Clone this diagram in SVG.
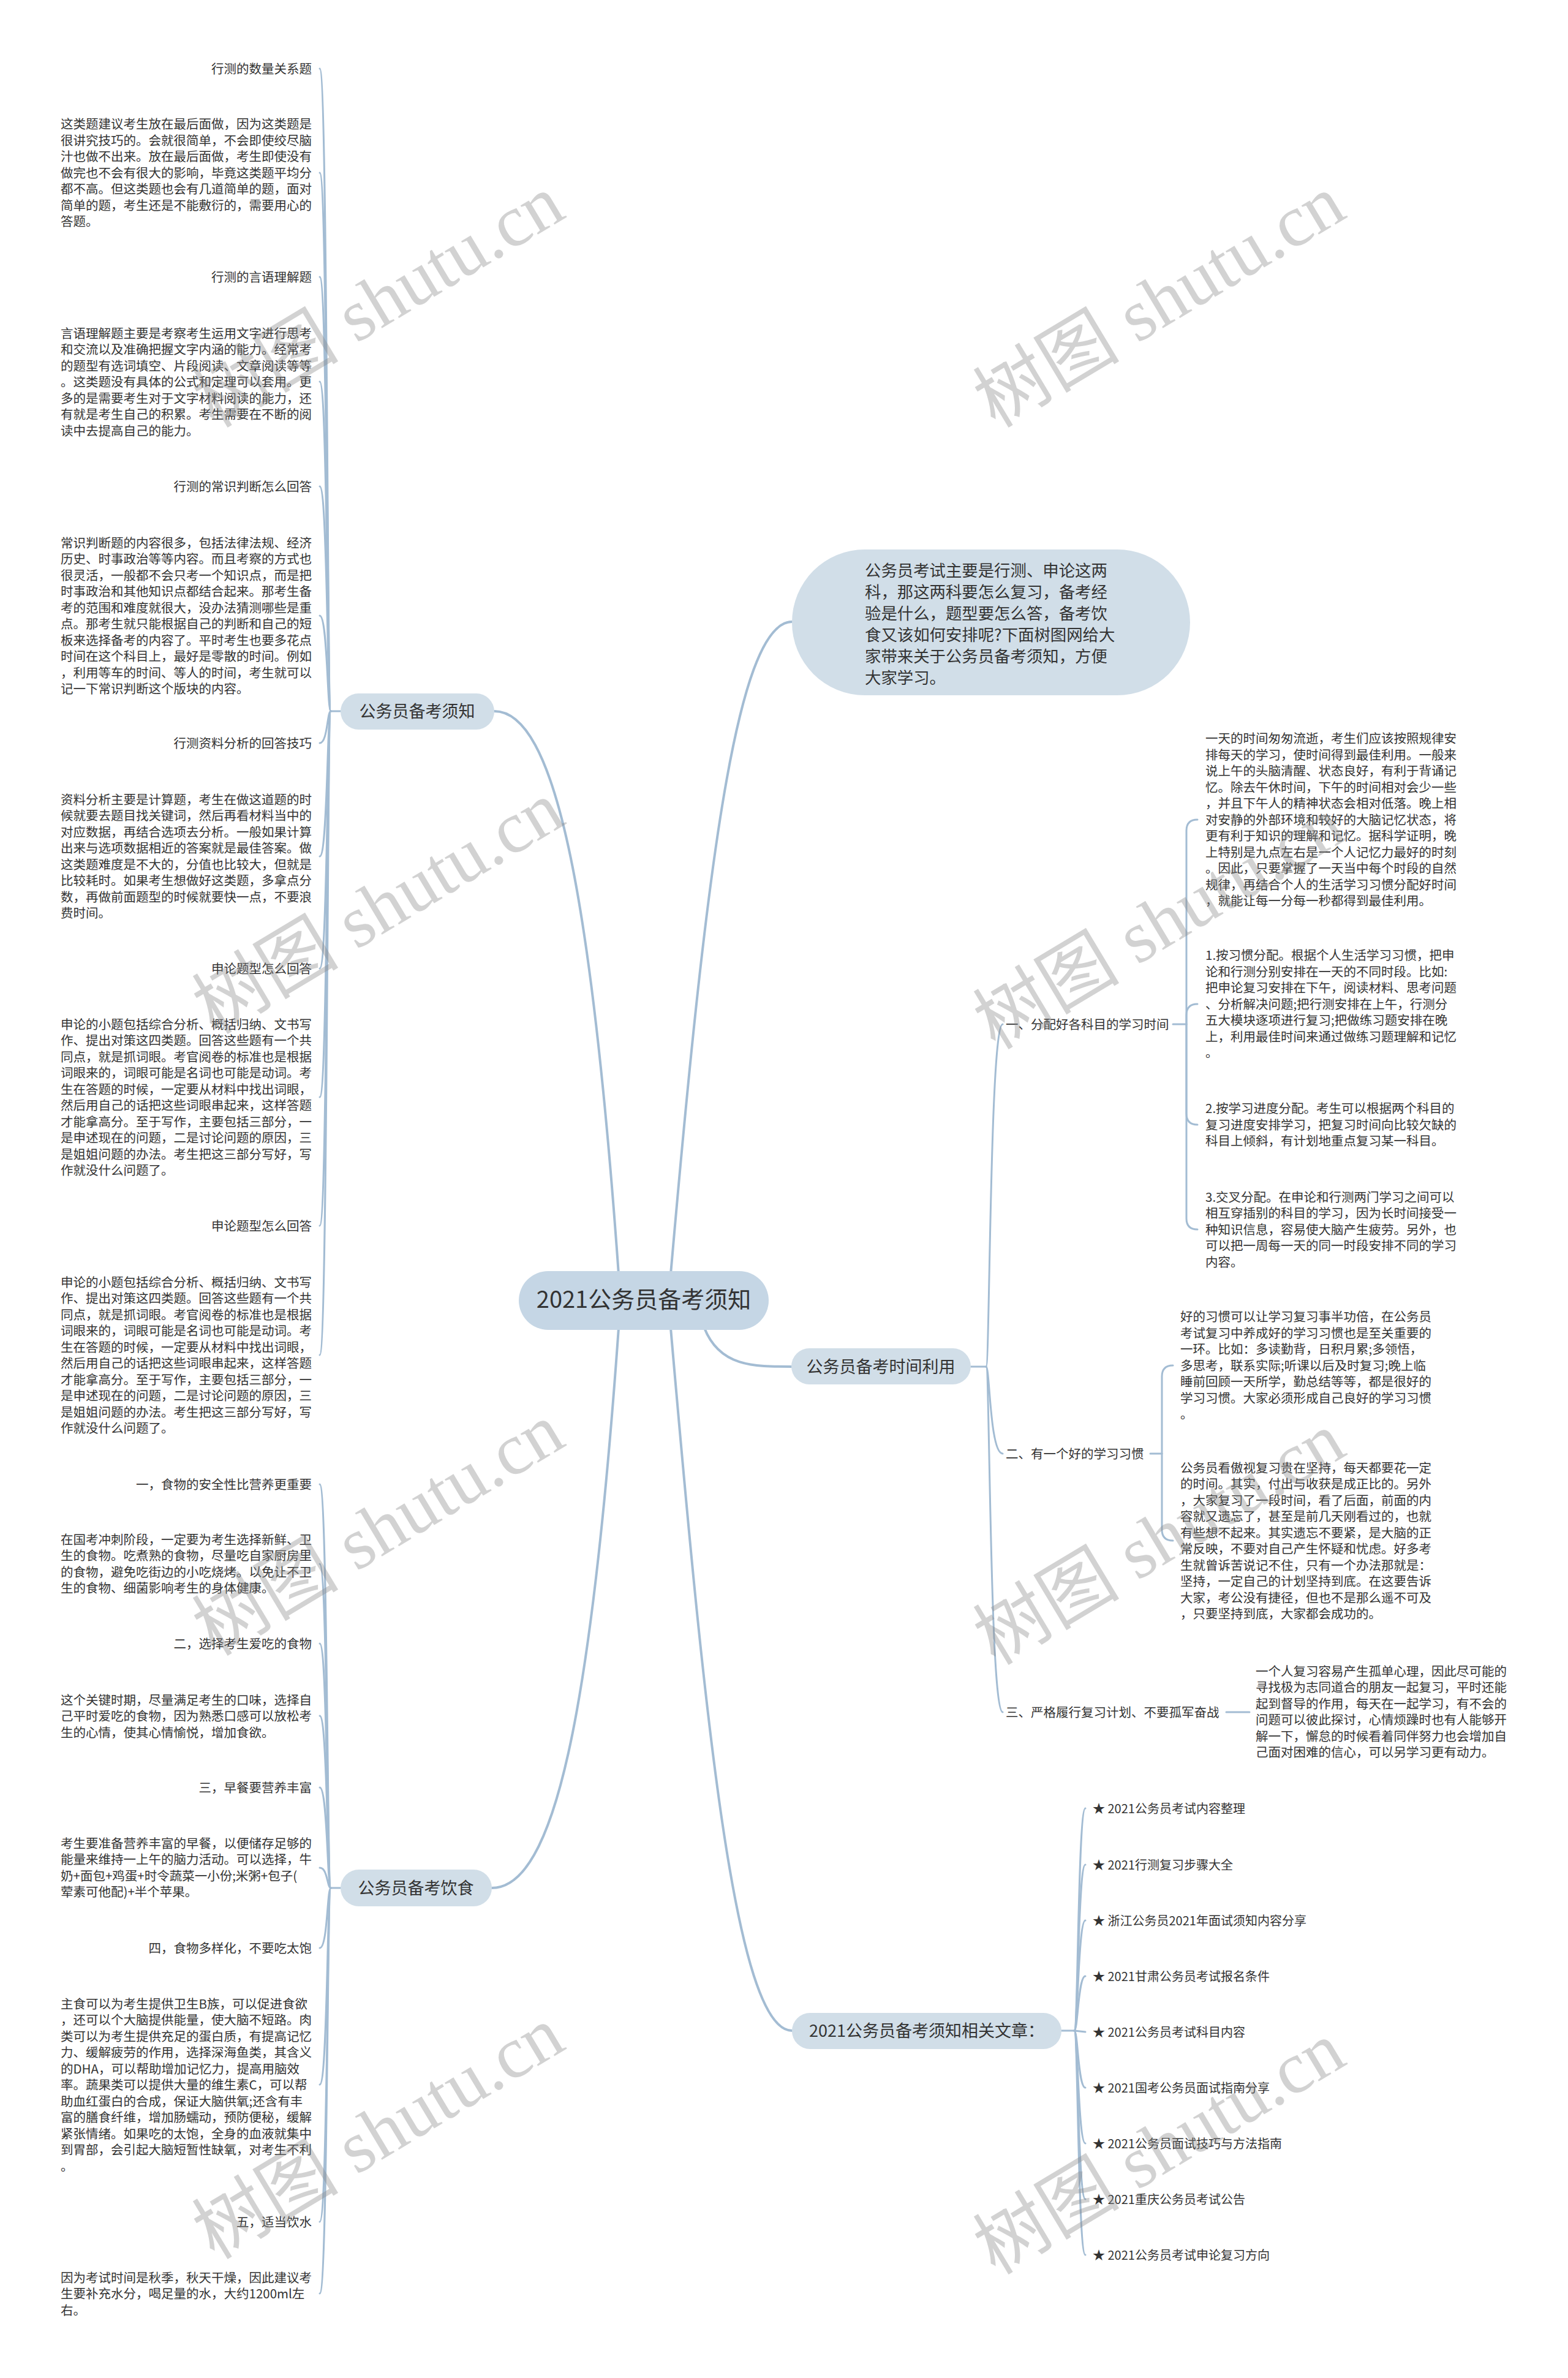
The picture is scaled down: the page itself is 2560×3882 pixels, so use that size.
<svg xmlns="http://www.w3.org/2000/svg" width="2560" height="3882" viewBox="0 0 2560 3882">
<style>
.leaf{font-family:"Noto Sans CJK SC","Noto Sans",sans-serif;font-size:20.5px;fill:#333333}
.rel{font-family:"Noto Sans CJK SC","Noto Sans",sans-serif;font-size:20px;fill:#333333}
.ttl{font-family:"Noto Sans CJK SC","Noto Sans",sans-serif;font-size:20.5px;fill:#333333;text-anchor:end}
.big{font-family:"Noto Sans CJK SC","Noto Sans",sans-serif;font-size:26.4px;fill:#333333}
.n1{font-family:"Noto Sans CJK SC","Noto Sans",sans-serif;font-size:27px;fill:#333333;text-anchor:middle}
.root{font-family:"Noto Sans CJK SC","Noto Sans",sans-serif;font-size:38px;fill:#333333;text-anchor:middle}
.pill{fill:#d1dee8}
.rootbox{fill:#c5d6e5}
.c{fill:none;stroke:#a3bcd3;stroke-width:3;stroke-linecap:round}
.c0{fill:none;stroke:#a3bcd3;stroke-width:4;stroke-linecap:round}
.wm{font-family:"Liberation Serif","Noto Sans CJK SC",serif;font-size:120px;fill:#8a8a8a;fill-opacity:0.38}
</style>
<rect width="2560" height="3882" fill="#ffffff"/>

<g id="connectors">
  <path class="c0" d="M1010 2080 C965 1450,905 1161,807 1161"/>
  <path class="c0" d="M1010 2168 C965 2800,905 3082,803 3082"/>
  <path class="c0" d="M1095 2080 C1150 1450,1200 1015,1293 1015"/>
  <path class="c0" d="M1150 2168 C1175 2231,1230 2231,1292 2231"/>
  <path class="c0" d="M1095 2168 C1150 2800,1200 3315,1293 3315"/>
  <path class="c" d="M556 1161 L540 1161"/>
  <path class="c" d="M540 1161 C534 1161,535 112,522 112"/>
  <path class="c" d="M540 1161 C534 1161,535 282,522 282"/>
  <path class="c" d="M540 1161 C534 1161,535 452,522 452"/>
  <path class="c" d="M540 1161 C534 1161,535 623,522 623"/>
  <path class="c" d="M540 1161 C534 1161,535 794,522 794"/>
  <path class="c" d="M540 1161 C534 1161,535 1005,522 1005"/>
  <path class="c" d="M540 1161 C534 1161,535 1213,522 1213"/>
  <path class="c" d="M540 1161 C534 1161,535 1398,522 1398"/>
  <path class="c" d="M540 1161 C534 1161,535 1581,522 1581"/>
  <path class="c" d="M540 1161 C534 1161,535 1791,522 1791"/>
  <path class="c" d="M540 1161 C534 1161,535 2001,522 2001"/>
  <path class="c" d="M540 1161 C534 1161,535 2212,522 2212"/>
  <path class="c" d="M556 3082 L540 3082"/>
  <path class="c" d="M540 3082 C534 3082,535 2423,522 2423"/>
  <path class="c" d="M540 3082 C534 3082,535 2553,522 2553"/>
  <path class="c" d="M540 3082 C534 3082,535 2683,522 2683"/>
  <path class="c" d="M540 3082 C534 3082,535 2801,522 2801"/>
  <path class="c" d="M540 3082 C534 3082,535 2918,522 2918"/>
  <path class="c" d="M540 3082 C534 3082,535 3049,522 3049"/>
  <path class="c" d="M540 3082 C534 3082,535 3180,522 3180"/>
  <path class="c" d="M540 3082 C534 3082,535 3403,522 3403"/>
  <path class="c" d="M540 3082 C534 3082,535 3627,522 3627"/>
  <path class="c" d="M540 3082 C534 3082,535 3744,522 3744"/>
  <path class="c" d="M1585 2231 L1610 2231"/>
  <path class="c" d="M1610 2231 C1616 2231,1616 1672,1637 1672"/>
  <path class="c" d="M1610 2231 C1616 2231,1616 2373,1637 2373"/>
  <path class="c" d="M1610 2231 C1616 2231,1616 2795,1637 2795"/>
  <path class="c" d="M1915 1672 L1937 1672"/>
  <path class="c" d="M1937 1672 L1937 1356 Q1937 1338 1955 1338"/>
  <path class="c" d="M1937 1672 L1937 1657 Q1937 1639 1955 1639"/>
  <path class="c" d="M1937 1672 L1937 1818 Q1937 1836 1955 1836"/>
  <path class="c" d="M1937 1672 L1937 1989 Q1937 2007 1955 2007"/>
  <path class="c" d="M1878 2373 L1897 2373"/>
  <path class="c" d="M1897 2373 L1897 2247 Q1897 2229 1915 2229"/>
  <path class="c" d="M1897 2373 L1897 2497 Q1897 2515 1915 2515"/>
  <path class="c" d="M2002 2795 L2040 2795"/>
  <path class="c" d="M1733 3315 L1754 3315"/>
  <path class="c" d="M1754 3315 C1760 3315,1760 2952,1772 2952"/>
  <path class="c" d="M1754 3315 C1760 3315,1760 3044,1772 3044"/>
  <path class="c" d="M1754 3315 C1760 3315,1760 3135,1772 3135"/>
  <path class="c" d="M1754 3315 C1760 3315,1760 3226,1772 3226"/>
  <path class="c" d="M1754 3315 L1772 3317"/>
  <path class="c" d="M1754 3315 C1760 3315,1760 3408,1772 3408"/>
  <path class="c" d="M1754 3315 C1760 3315,1760 3499,1772 3499"/>
  <path class="c" d="M1754 3315 C1760 3315,1760 3590,1772 3590"/>
  <path class="c" d="M1754 3315 C1760 3315,1760 3681,1772 3681"/>
</g>

<g id="root">
  <rect class="rootbox" x="847" y="2075" width="408" height="96" rx="48"/>
  <text class="root" x="1051" y="2135">2021公务员备考须知</text>
</g>

<g id="intro">
  <rect class="pill" x="1293" y="897" width="650" height="238" rx="119"/>
  <text class="big">
    <tspan x="1412" y="941">公务员考试主要是行测、申论这两</tspan>
    <tspan x="1412" y="976">科，那这两科要怎么复习，备考经</tspan>
    <tspan x="1412" y="1011">验是什么，题型要怎么答，备考饮</tspan>
    <tspan x="1412" y="1046">食又该如何安排呢?下面树图网给大</tspan>
    <tspan x="1412" y="1081">家带来关于公务员备考须知，方便</tspan>
    <tspan x="1412" y="1116">大家学习。</tspan>
  </text>
</g>

<g id="n-xuzhi">
  <rect class="pill" x="556" y="1132" width="251" height="59" rx="29.5"/>
  <text class="n1" x="681" y="1171">公务员备考须知</text>
</g>
<g id="n-yinshi">
  <rect class="pill" x="556" y="3052" width="247" height="60" rx="30"/>
  <text class="n1" x="679" y="3092">公务员备考饮食</text>
</g>
<g id="n-shijian">
  <rect class="pill" x="1292" y="2201" width="293" height="59" rx="29.5"/>
  <text class="n1" x="1438" y="2241">公务员备考时间利用</text>
</g>
<g id="n-wenzhang">
  <rect class="pill" x="1293" y="3286" width="440" height="59" rx="29.5"/>
  <text class="n1" x="1513" y="3325">2021公务员备考须知相关文章：</text>
</g>

<g id="t1"><text class="ttl" x="509" y="119.5">行测的数量关系题</text></g>
<g id="p1"><text class="leaf">
  <tspan x="99" y="210">这类题建议考生放在最后面做，因为这类题是</tspan>
  <tspan x="99" y="236.5">很讲究技巧的。会就很简单，不会即使绞尽脑</tspan>
  <tspan x="99" y="263">汁也做不出来。放在最后面做，考生即使没有</tspan>
  <tspan x="99" y="289.5">做完也不会有很大的影响，毕竟这类题平均分</tspan>
  <tspan x="99" y="316">都不高。但这类题也会有几道简单的题，面对</tspan>
  <tspan x="99" y="342.5">简单的题，考生还是不能敷衍的，需要用心的</tspan>
  <tspan x="99" y="369">答题。</tspan>
</text></g>
<g id="t2"><text class="ttl" x="509" y="459.5">行测的言语理解题</text></g>
<g id="p2"><text class="leaf">
  <tspan x="99" y="551.5">言语理解题主要是考察考生运用文字进行思考</tspan>
  <tspan x="99" y="578">和交流以及准确把握文字内涵的能力。经常考</tspan>
  <tspan x="99" y="604.5">的题型有选词填空、片段阅读、文章阅读等等</tspan>
  <tspan x="99" y="631">。这类题没有具体的公式和定理可以套用。更</tspan>
  <tspan x="99" y="657.5">多的是需要考生对于文字材料阅读的能力，还</tspan>
  <tspan x="99" y="684">有就是考生自己的积累。考生需要在不断的阅</tspan>
  <tspan x="99" y="710.5">读中去提高自己的能力。</tspan>
</text></g>
<g id="t3"><text class="ttl" x="509" y="801.5">行测的常识判断怎么回答</text></g>
<g id="p3"><text class="leaf">
  <tspan x="99" y="893.5">常识判断题的内容很多，包括法律法规、经济</tspan>
  <tspan x="99" y="920">历史、时事政治等等内容。而且考察的方式也</tspan>
  <tspan x="99" y="946.5">很灵活，一般都不会只考一个知识点，而是把</tspan>
  <tspan x="99" y="973">时事政治和其他知识点都结合起来。那考生备</tspan>
  <tspan x="99" y="999.5">考的范围和难度就很大，没办法猜测哪些是重</tspan>
  <tspan x="99" y="1026">点。那考生就只能根据自己的判断和自己的短</tspan>
  <tspan x="99" y="1052.5">板来选择备考的内容了。平时考生也要多花点</tspan>
  <tspan x="99" y="1079">时间在这个科目上，最好是零散的时间。例如</tspan>
  <tspan x="99" y="1105.5">，利用等车的时间、等人的时间，考生就可以</tspan>
  <tspan x="99" y="1132">记一下常识判断这个版块的内容。</tspan>
</text></g>
<g id="t4"><text class="ttl" x="509" y="1221">行测资料分析的回答技巧</text></g>
<g id="p4"><text class="leaf">
  <tspan x="99" y="1312.5">资料分析主要是计算题，考生在做这道题的时</tspan>
  <tspan x="99" y="1339">候就要去题目找关键词，然后再看材料当中的</tspan>
  <tspan x="99" y="1365.5">对应数据，再结合选项去分析。一般如果计算</tspan>
  <tspan x="99" y="1392">出来与选项数据相近的答案就是最佳答案。做</tspan>
  <tspan x="99" y="1418.5">这类题难度是不大的，分值也比较大，但就是</tspan>
  <tspan x="99" y="1445">比较耗时。如果考生想做好这类题，多拿点分</tspan>
  <tspan x="99" y="1471.5">数，再做前面题型的时候就要快一点，不要浪</tspan>
  <tspan x="99" y="1498">费时间。</tspan>
</text></g>
<g id="t5"><text class="ttl" x="509" y="1588.5">申论题型怎么回答</text></g>
<g id="p5"><text class="leaf">
  <tspan x="99" y="1679.5">申论的小题包括综合分析、概括归纳、文书写</tspan>
  <tspan x="99" y="1706">作、提出对策这四类题。回答这些题有一个共</tspan>
  <tspan x="99" y="1732.5">同点，就是抓词眼。考官阅卷的标准也是根据</tspan>
  <tspan x="99" y="1759">词眼来的，词眼可能是名词也可能是动词。考</tspan>
  <tspan x="99" y="1785.5">生在答题的时候，一定要从材料中找出词眼，</tspan>
  <tspan x="99" y="1812">然后用自己的话把这些词眼串起来，这样答题</tspan>
  <tspan x="99" y="1838.5">才能拿高分。至于写作，主要包括三部分，一</tspan>
  <tspan x="99" y="1865">是申述现在的问题，二是讨论问题的原因，三</tspan>
  <tspan x="99" y="1891.5">是姐姐问题的办法。考生把这三部分写好，写</tspan>
  <tspan x="99" y="1918">作就没什么问题了。</tspan>
</text></g>
<g id="t6"><text class="ttl" x="509" y="2008.5">申论题型怎么回答</text></g>
<g id="p6"><text class="leaf">
  <tspan x="99" y="2100.5">申论的小题包括综合分析、概括归纳、文书写</tspan>
  <tspan x="99" y="2127">作、提出对策这四类题。回答这些题有一个共</tspan>
  <tspan x="99" y="2153.5">同点，就是抓词眼。考官阅卷的标准也是根据</tspan>
  <tspan x="99" y="2180">词眼来的，词眼可能是名词也可能是动词。考</tspan>
  <tspan x="99" y="2206.5">生在答题的时候，一定要从材料中找出词眼，</tspan>
  <tspan x="99" y="2233">然后用自己的话把这些词眼串起来，这样答题</tspan>
  <tspan x="99" y="2259.5">才能拿高分。至于写作，主要包括三部分，一</tspan>
  <tspan x="99" y="2286">是申述现在的问题，二是讨论问题的原因，三</tspan>
  <tspan x="99" y="2312.5">是姐姐问题的办法。考生把这三部分写好，写</tspan>
  <tspan x="99" y="2339">作就没什么问题了。</tspan>
</text></g>

<g id="t7"><text class="ttl" x="509" y="2430.5">一，食物的安全性比营养更重要</text></g>
<g id="p7"><text class="leaf">
  <tspan x="99" y="2520.5">在国考冲刺阶段，一定要为考生选择新鲜、卫</tspan>
  <tspan x="99" y="2547">生的食物。吃煮熟的食物，尽量吃自家厨房里</tspan>
  <tspan x="99" y="2573.5">的食物，避免吃街边的小吃烧烤。以免让不卫</tspan>
  <tspan x="99" y="2600">生的食物、细菌影响考生的身体健康。</tspan>
</text></g>
<g id="t8"><text class="ttl" x="509" y="2690.5">二，选择考生爱吃的食物</text></g>
<g id="p8"><text class="leaf">
  <tspan x="99" y="2782.5">这个关键时期，尽量满足考生的口味，选择自</tspan>
  <tspan x="99" y="2809">己平时爱吃的食物，因为熟悉口感可以放松考</tspan>
  <tspan x="99" y="2835.5">生的心情，使其心情愉悦，增加食欲。</tspan>
</text></g>
<g id="t9"><text class="ttl" x="509" y="2925.5">三，早餐要营养丰富</text></g>
<g id="p9"><text class="leaf">
  <tspan x="99" y="3016.5">考生要准备营养丰富的早餐，以便储存足够的</tspan>
  <tspan x="99" y="3043">能量来维持一上午的脑力活动。可以选择，牛</tspan>
  <tspan x="99" y="3069.5">奶+面包+鸡蛋+时令蔬菜一小份;米粥+包子(</tspan>
  <tspan x="99" y="3096">荤素可他配)+半个苹果。</tspan>
</text></g>
<g id="t10"><text class="ttl" x="509" y="3187.5">四，食物多样化，不要吃太饱</text></g>
<g id="p10"><text class="leaf">
  <tspan x="99" y="3278.5">主食可以为考生提供卫生B族，可以促进食欲</tspan>
  <tspan x="99" y="3305">，还可以个大脑提供能量，使大脑不短路。肉</tspan>
  <tspan x="99" y="3331.5">类可以为考生提供充足的蛋白质，有提高记忆</tspan>
  <tspan x="99" y="3358">力、缓解疲劳的作用，选择深海鱼类，其含义</tspan>
  <tspan x="99" y="3384.5">的DHA，可以帮助增加记忆力，提高用脑效</tspan>
  <tspan x="99" y="3411">率。蔬果类可以提供大量的维生素C，可以帮</tspan>
  <tspan x="99" y="3437.5">助血红蛋白的合成，保证大脑供氧;还含有丰</tspan>
  <tspan x="99" y="3464">富的膳食纤维，增加肠蠕动，预防便秘，缓解</tspan>
  <tspan x="99" y="3490.5">紧张情绪。如果吃的太饱，全身的血液就集中</tspan>
  <tspan x="99" y="3517">到胃部，会引起大脑短暂性缺氧，对考生不利</tspan>
  <tspan x="99" y="3543.5">。</tspan>
</text></g>
<g id="t11"><text class="ttl" x="509" y="3634.5">五，适当饮水</text></g>
<g id="p11"><text class="leaf">
  <tspan x="99" y="3725.5">因为考试时间是秋季，秋天干燥，因此建议考</tspan>
  <tspan x="99" y="3752">生要补充水分，喝足量的水，大约1200ml左</tspan>
  <tspan x="99" y="3778.5">右。</tspan>
</text></g>

<g id="s1"><text class="leaf" x="1642" y="1679.5">一、分配好各科目的学习时间</text></g>
<g id="s1a"><text class="leaf">
  <tspan x="1968" y="1213">一天的时间匆匆流逝，考生们应该按照规律安</tspan>
  <tspan x="1968" y="1239.5">排每天的学习，使时间得到最佳利用。一般来</tspan>
  <tspan x="1968" y="1266">说上午的头脑清醒、状态良好，有利于背诵记</tspan>
  <tspan x="1968" y="1292.5">忆。除去午休时间，下午的时间相对会少一些</tspan>
  <tspan x="1968" y="1319">，并且下午人的精神状态会相对低落。晚上相</tspan>
  <tspan x="1968" y="1345.5">对安静的外部环境和较好的大脑记忆状态，将</tspan>
  <tspan x="1968" y="1372">更有利于知识的理解和记忆。据科学证明，晚</tspan>
  <tspan x="1968" y="1398.5">上特别是九点左右是一个人记忆力最好的时刻</tspan>
  <tspan x="1968" y="1425">。因此，只要掌握了一天当中每个时段的自然</tspan>
  <tspan x="1968" y="1451.5">规律，再结合个人的生活学习习惯分配好时间</tspan>
  <tspan x="1968" y="1478">，就能让每一分每一秒都得到最佳利用。</tspan>
</text></g>
<g id="s1b"><text class="leaf">
  <tspan x="1968" y="1567">1.按习惯分配。根据个人生活学习习惯，把申</tspan>
  <tspan x="1968" y="1593.5">论和行测分别安排在一天的不同时段。比如:</tspan>
  <tspan x="1968" y="1620">把申论复习安排在下午，阅读材料、思考问题</tspan>
  <tspan x="1968" y="1646.5">、分析解决问题;把行测安排在上午，行测分</tspan>
  <tspan x="1968" y="1673">五大模块逐项进行复习;把做练习题安排在晚</tspan>
  <tspan x="1968" y="1699.5">上，利用最佳时间来通过做练习题理解和记忆</tspan>
  <tspan x="1968" y="1726">。</tspan>
</text></g>
<g id="s1c"><text class="leaf">
  <tspan x="1968" y="1817">2.按学习进度分配。考生可以根据两个科目的</tspan>
  <tspan x="1968" y="1843.5">复习进度安排学习，把复习时间向比较欠缺的</tspan>
  <tspan x="1968" y="1870">科目上倾斜，有计划地重点复习某一科目。</tspan>
</text></g>
<g id="s1d"><text class="leaf">
  <tspan x="1968" y="1961.5">3.交叉分配。在申论和行测两门学习之间可以</tspan>
  <tspan x="1968" y="1988">相互穿插别的科目的学习，因为长时间接受一</tspan>
  <tspan x="1968" y="2014.5">种知识信息，容易使大脑产生疲劳。另外，也</tspan>
  <tspan x="1968" y="2041">可以把一周每一天的同一时段安排不同的学习</tspan>
  <tspan x="1968" y="2067.5">内容。</tspan>
</text></g>
<g id="s2"><text class="leaf" x="1642" y="2380.5">二、有一个好的学习习惯</text></g>
<g id="s2a"><text class="leaf">
  <tspan x="1927" y="2157">好的习惯可以让学习复习事半功倍，在公务员</tspan>
  <tspan x="1927" y="2183.5">考试复习中养成好的学习习惯也是至关重要的</tspan>
  <tspan x="1927" y="2210">一环。比如：多读勤背，日积月累;多领悟，</tspan>
  <tspan x="1927" y="2236.5">多思考，联系实际;听课以后及时复习;晚上临</tspan>
  <tspan x="1927" y="2263">睡前回顾一天所学，勤总结等等，都是很好的</tspan>
  <tspan x="1927" y="2289.5">学习习惯。大家必须形成自己良好的学习习惯</tspan>
  <tspan x="1927" y="2316">。</tspan>
</text></g>
<g id="s2b"><text class="leaf">
  <tspan x="1927" y="2403.5">公务员看傲视复习贵在坚持，每天都要花一定</tspan>
  <tspan x="1927" y="2430">的时间。其实，付出与收获是成正比的。另外</tspan>
  <tspan x="1927" y="2456.5">，大家复习了一段时间，看了后面，前面的内</tspan>
  <tspan x="1927" y="2483">容就又遗忘了，甚至是前几天刚看过的，也就</tspan>
  <tspan x="1927" y="2509.5">有些想不起来。其实遗忘不要紧，是大脑的正</tspan>
  <tspan x="1927" y="2536">常反映，不要对自己产生怀疑和忧虑。好多考</tspan>
  <tspan x="1927" y="2562.5">生就曾诉苦说记不住，只有一个办法那就是：</tspan>
  <tspan x="1927" y="2589">坚持，一定自己的计划坚持到底。在这要告诉</tspan>
  <tspan x="1927" y="2615.5">大家，考公没有捷径，但也不是那么遥不可及</tspan>
  <tspan x="1927" y="2642">，只要坚持到底，大家都会成功的。</tspan>
</text></g>
<g id="s3"><text class="leaf" x="1642" y="2802.5">三、严格履行复习计划、不要孤军奋战</text></g>
<g id="s3a"><text class="leaf">
  <tspan x="2050" y="2735.5">一个人复习容易产生孤单心理，因此尽可能的</tspan>
  <tspan x="2050" y="2762">寻找极为志同道合的朋友一起复习，平时还能</tspan>
  <tspan x="2050" y="2788.5">起到督导的作用，每天在一起学习，有不会的</tspan>
  <tspan x="2050" y="2815">问题可以彼此探讨，心情烦躁时也有人能够开</tspan>
  <tspan x="2050" y="2841.5">解一下，懈怠的时候看着同伴努力也会增加自</tspan>
  <tspan x="2050" y="2868">己面对困难的信心，可以另学习更有动力。</tspan>
</text></g>

<g id="r1"><text class="rel" x="1784" y="2959.5">★ 2021公务员考试内容整理</text></g>
<g id="r2"><text class="rel" x="1784" y="3051.5">★ 2021行测复习步骤大全</text></g>
<g id="r3"><text class="rel" x="1784" y="3142.5">★ 浙江公务员2021年面试须知内容分享</text></g>
<g id="r4"><text class="rel" x="1784" y="3233.5">★ 2021甘肃公务员考试报名条件</text></g>
<g id="r5"><text class="rel" x="1784" y="3324.5">★ 2021公务员考试科目内容</text></g>
<g id="r6"><text class="rel" x="1784" y="3415.5">★ 2021国考公务员面试指南分享</text></g>
<g id="r7"><text class="rel" x="1784" y="3506.5">★ 2021公务员面试技巧与方法指南</text></g>
<g id="r8"><text class="rel" x="1784" y="3597.5">★ 2021重庆公务员考试公告</text></g>
<g id="r9"><text class="rel" x="1784" y="3688.5">★ 2021公务员考试申论复习方向</text></g>

<g id="watermarks">
  <text class="wm" transform="translate(350,700) rotate(-31)">树图 shutu.cn</text>
  <text class="wm" transform="translate(1625,700) rotate(-31)">树图 shutu.cn</text>
  <text class="wm" transform="translate(350,1690) rotate(-31)">树图 shutu.cn</text>
  <text class="wm" transform="translate(1625,1715) rotate(-31)">树图 shutu.cn</text>
  <text class="wm" transform="translate(350,2705) rotate(-31)">树图 shutu.cn</text>
  <text class="wm" transform="translate(1625,2720) rotate(-31)">树图 shutu.cn</text>
  <text class="wm" transform="translate(350,3690) rotate(-31)">树图 shutu.cn</text>
  <text class="wm" transform="translate(1625,3715) rotate(-31)">树图 shutu.cn</text>
</g>
</svg>
